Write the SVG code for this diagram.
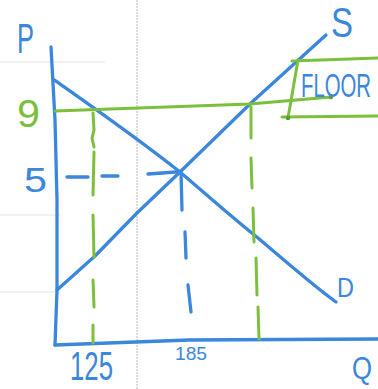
<svg xmlns="http://www.w3.org/2000/svg" width="378" height="389" viewBox="0 0 378 389">
<style>
.bg{fill:none;stroke:#e4e4e4;stroke-width:1}
.bl{fill:none;stroke:#3b87dc;stroke-width:3.3;stroke-linecap:round;stroke-linejoin:round}
.gr{fill:none;stroke:#7cbf3c;stroke-width:3;stroke-linecap:round;stroke-linejoin:round}
.tb{font-family:"Liberation Sans",Arial,sans-serif;fill:#3b87dc}
.tg{font-family:"Liberation Sans",Arial,sans-serif;fill:#7cbf3c}
</style>
<rect width="378" height="389" fill="#ffffff"/>
<g id="paper">
<line x1="137" y1="0" x2="137" y2="389" stroke="#b8b8b8" stroke-width="1" stroke-dasharray="2 1"/>
<line class="bg" x1="0" y1="62" x2="105" y2="62"/>
<line class="bg" x1="0" y1="215" x2="60" y2="215"/>
<line class="bg" x1="0" y1="292" x2="60" y2="292"/>
</g>
<g id="axes">
<path class="bl" d="M51,47 L55,120 L57,200 L57,290 L55,345"/>
<path class="bl" d="M55,345 L189,340 L378,339"/>
</g>
<g id="demand">
<path class="bl" d="M53,79 C100,112 140,140 180,172 C215,202 235,220 258,238 C290,265 315,287 336,302"/>
</g>
<g id="supply">
<path class="bl" d="M57,290 L95,256 L137,213 L180,172 L251,103 L326,35"/>
</g>
<g id="connectors">
<path class="bl" d="M67,177 L88,177 M102,176 L118,176 M148,174 L176,172"/>
<path class="bl" d="M181,172 L182,210 M185,232 L186,258 M188,285 L191,312"/>
<path class="gr" d="M93,113 L94,130 L92,138 L94,147 M94,152 L93,195 M93,215 L94,257 M93,280 L94,307 M93,325 L93,343"/>
<path class="gr" d="M251,107 L251,138 M251,158 L252,188 M253,208 L254,242 M256,258 L257,295 M258,307 L259,339"/>
</g>
<g id="floor">
<path class="gr" d="M55,111 L250,104 L331,97"/>
<path class="gr" d="M292,61 L378,58 M298,60 L288,118 M282,117 L378,116"/>
<circle cx="331" cy="97" r="2.2" fill="#5a9a30"/>
<circle cx="288" cy="118" r="2.2" fill="#5a9a30"/>
<text class="tb" x="301" y="97" font-size="33" textLength="70" lengthAdjust="spacingAndGlyphs">FLOOR</text>
</g>
<g id="labels">
<text class="tb" x="17" y="53" font-size="42" textLength="17" lengthAdjust="spacingAndGlyphs">P</text>
<text class="tb" x="331" y="37" font-size="42" textLength="22" lengthAdjust="spacingAndGlyphs">S</text>
<text class="tg" x="17" y="127" font-size="38" textLength="23" lengthAdjust="spacingAndGlyphs">9</text>
<text class="tb" x="24" y="192" font-size="35" textLength="23" lengthAdjust="spacingAndGlyphs">5</text>
<text class="tb" x="70" y="380" font-size="41" textLength="43" lengthAdjust="spacingAndGlyphs">125</text>
<text class="tb" x="175" y="360" font-size="19" textLength="32" lengthAdjust="spacingAndGlyphs">185</text>
<text class="tb" x="337" y="297" font-size="28" textLength="17" lengthAdjust="spacingAndGlyphs">D</text>
<text class="tb" x="352" y="379" font-size="32" textLength="20" lengthAdjust="spacingAndGlyphs">Q</text>
</g>
</svg>
